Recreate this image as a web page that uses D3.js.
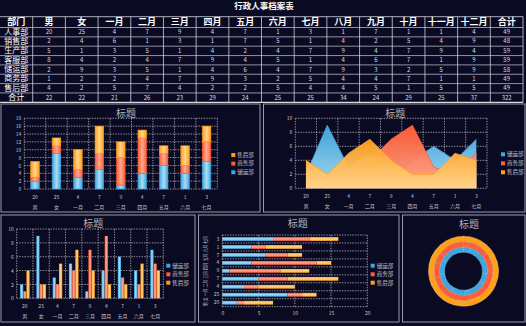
<!DOCTYPE html>
<html><head><meta charset="utf-8">
<script src="https://cdn.jsdelivr.net/npm/d3@7"></script>
<style>
html,body{margin:0;padding:0;background:#0b0a23;}
svg{display:block;}
text{font-family:"Noto Sans CJK SC","Noto Sans",sans-serif;}
</style></head><body>
<svg id="c" width="526" height="326"></svg>
<script>
// ---- table data ----
const tableTitle = "行政人事档案表";
const tableHeader = ["部门","男","女","一月","二月","三月","四月","五月","六月","七月","八月","九月","十月","十一月","十二月","合计"];
const departments = ["人事部","销售部","生产部","客服部","储运部","商务部","售后部","合计"];
const tableRows = [
  [20,25,4,7,9,4,7,1,3,1,7,1,1,4,49],
  [2,4,6,1,3,1,7,5,1,4,2,5,4,9,48],
  [5,1,3,5,1,4,2,4,7,9,4,7,9,4,59],
  [8,4,2,4,7,9,4,5,1,4,6,7,1,9,59],
  [2,9,3,5,1,4,6,4,7,9,3,2,5,9,58],
  [1,2,2,4,7,9,3,2,5,4,4,7,1,1,49],
  [4,2,5,7,4,2,2,5,4,4,5,1,5,5,49],
  [22,22,21,26,23,29,24,25,25,34,24,29,25,37,322]
];

// ---- chart data ----
const chartTitle = "标题";
const chartCategories = ["男","女","一月","二月","三月","四月","五月","六月","七月"];
const categoryTicks = [20,25,4,7,9,4,7,1,3];
const seriesNames = ["储运部","商务部","售后部"];
const storageValues = [2,9,3,5,1,4,6,4,7];
const businessValues = [1,2,2,4,7,9,3,2,5];
const afterSalesValues = [4,2,5,7,4,2,2,5,4];
const stackTicks = [0,2,4,6,8,10,12,14,16,18];
const tenTicks = [0,2,4,6,8,10];
const barTicks = [0,5,10,15,20];

const seriesValues = [storageValues, businessValues, afterSalesValues];
const palette = [
  {dark:"#3fa6df", light:"#a9ddf5"},
  {dark:"#ff5c38", light:"#ffa98c"},
  {dark:"#ffa01c", light:"#ffd48a"}
];

const svg = d3.select("#c");
const defs = svg.append("defs");
palette.forEach((p, i) => {
  // vertical fade used by areas
  const gv = defs.append("linearGradient").attr("id", "gv" + i)
    .attr("x1", 0).attr("y1", 0).attr("x2", 0).attr("y2", 1);
  gv.append("stop").attr("offset", "0%").attr("stop-color", p.dark);
  gv.append("stop").attr("offset", "100%").attr("stop-color", p.light);
  // column sheen: darker edges, lighter middle
  const gh = defs.append("linearGradient").attr("id", "gh" + i)
    .attr("x1", 0).attr("y1", 0).attr("x2", 1).attr("y2", 0);
  gh.append("stop").attr("offset", "0%").attr("stop-color", p.dark);
  gh.append("stop").attr("offset", "50%").attr("stop-color", p.light);
  gh.append("stop").attr("offset", "100%").attr("stop-color", p.dark);
  // bar sheen for horizontal bars
  const gb = defs.append("linearGradient").attr("id", "gb" + i)
    .attr("x1", 0).attr("y1", 0).attr("x2", 0).attr("y2", 1);
  gb.append("stop").attr("offset", "0%").attr("stop-color", p.dark);
  gb.append("stop").attr("offset", "50%").attr("stop-color", p.light);
  gb.append("stop").attr("offset", "100%").attr("stop-color", p.dark);
});

const LINE = "#b4b4c2";
const LABEL = "#c4c4cc";

// ---- title + table ----
svg.append("text").attr("x", 264).attr("y", 7).attr("text-anchor", "middle")
  .attr("dominant-baseline", "middle").attr("fill", "#ffffff")
  .attr("font-size", 8.5).attr("font-weight", "bold").text(tableTitle);

const colX = d3.scaleBand().domain(d3.range(tableHeader.length)).range([0, 523]);
const rowEdges = [16.7, 27.5].concat(d3.range(1, 9).map(i => 27.5 + i * 9.35));
const tg = svg.append("g");
rowEdges.forEach((y, i) => {
  tg.append("line").attr("x1", 0).attr("x2", 523).attr("y1", y).attr("y2", y)
    .attr("stroke", i === 0 || i === rowEdges.length - 1 ? "#d8d8e0" : LINE)
    .attr("stroke-width", i === rowEdges.length - 1 ? 1.2 : 0.8);
});
d3.range(1, tableHeader.length + 1).forEach(i => {
  const x = i === tableHeader.length ? 523 : colX(i);
  tg.append("line").attr("x1", x).attr("x2", x).attr("y1", rowEdges[0]).attr("y2", rowEdges[rowEdges.length - 1])
    .attr("stroke", "#d0d0da").attr("stroke-width", 0.8);
});
tableHeader.forEach((h, i) => {
  tg.append("text").attr("x", colX(i) + colX.bandwidth() / 2).attr("y", (rowEdges[0] + rowEdges[1]) / 2 + 0.5)
    .attr("text-anchor", "middle").attr("dominant-baseline", "middle")
    .attr("fill", "#ffffff").attr("font-size", 9).attr("font-weight", "bold").text(h);
});
departments.forEach((dep, r) => {
  const cy = (rowEdges[r + 1] + rowEdges[r + 2]) / 2 + 0.3;
  tg.append("text").attr("x", colX(0) + colX.bandwidth() / 2).attr("y", cy)
    .attr("text-anchor", "middle").attr("dominant-baseline", "middle")
    .attr("fill", "#ffffff").attr("font-size", 8).text(dep);
  tableRows[r].forEach((v, c) => {
    tg.append("text").attr("x", colX(c + 1) + colX.bandwidth() / 2).attr("y", cy)
      .attr("text-anchor", "middle").attr("dominant-baseline", "middle")
      .attr("fill", "#dcdce4").attr("font-size", 6).text(v);
  });
});

// ---- panels ----
const panels = [
  [1, 104, 260, 212], [263.5, 104, 525, 212],
  [1, 215, 195, 322], [198.5, 215, 399, 322], [402.5, 215, 525, 322]
];
panels.forEach(([x0, y0, x1, y1]) => {
  svg.append("rect").attr("x", x0).attr("y", y0).attr("width", x1 - x0).attr("height", y1 - y0)
    .attr("fill", "none").attr("stroke", "#9a9aaa").attr("stroke-width", 1);
});

// ---- helpers ----
function gridStyle(sel) {
  sel.attr("stroke", "#d4d4dc").attr("stroke-width", 0.8).attr("stroke-dasharray", "1.4,1.2").attr("opacity", 0.85);
}
function title(x, y) {
  svg.append("text").attr("x", x).attr("y", y).attr("text-anchor", "middle")
    .attr("dominant-baseline", "middle").attr("fill", "#b0b0b8").attr("font-size", 10).text(chartTitle);
}
function legend(x, ys, order) {
  order.forEach((si, k) => {
    svg.append("rect").attr("x", x - 2).attr("y", ys[k] - 2).attr("width", 4).attr("height", 4)
      .attr("fill", palette[si].dark);
    svg.append("text").attr("x", x + 4).attr("y", ys[k] + 0.3).attr("dominant-baseline", "middle")
      .attr("fill", LABEL).attr("font-size", 5.5).text(seriesNames[si]);
  });
}
function styleAxis(g) {
  g.select(".domain").remove();
  g.selectAll("text").attr("fill", LABEL).attr("font-size", 5)
    .attr("font-family", '"Noto Sans CJK SC","Noto Sans",sans-serif');
}
function categoryFrame(x, y, ticks, bottom) {
  const [x0, x1] = x.range();
  const [y0, y1] = [y.range()[1], y.range()[0]];
  const g = svg.append("g");
  ticks.forEach(t => g.append("line").attr("x1", x0).attr("x2", x1).attr("y1", y(t)).attr("y2", y(t)).call(gridStyle));
  x.domain().forEach(c => g.append("line").attr("x1", x(c)).attr("x2", x(c)).attr("y1", y0).attr("y2", y1).call(gridStyle));
  g.append("line").attr("x1", x1).attr("x2", x1).attr("y1", y0).attr("y2", y1).call(gridStyle);
  svg.append("g").attr("transform", `translate(${x0},0)`)
    .call(d3.axisLeft(y).tickValues(ticks).tickSize(0).tickPadding(3)).call(styleAxis);
  const ax = svg.append("g").attr("transform", `translate(0,${bottom})`)
    .call(d3.axisBottom(x).tickSize(0).tickPadding(6).tickFormat((d, i) => categoryTicks[i])).call(styleAxis);
  ax.selectAll(".tick").append("text").attr("y", 16).attr("dy", "0.71em").attr("text-anchor", "middle")
    .attr("fill", LABEL).attr("font-size", 5).text(d => d);
}

// ---- chart 1: stacked columns ----
{
  const x = d3.scaleBand().domain(chartCategories).range([24.3, 217.3]);
  const y = d3.scaleLinear().domain([0, 18]).range([189, 118.3]);
  categoryFrame(x, y, stackTicks, 189);
  const rows = chartCategories.map((c, i) => ({cat: c, s0: storageValues[i], s1: businessValues[i], s2: afterSalesValues[i]}));
  const layers = d3.stack().keys(["s0", "s1", "s2"])(rows);
  const bw = x.bandwidth() * 0.4;
  layers.forEach((layer, li) => {
    svg.append("g").selectAll("rect").data(layer).join("rect")
      .attr("x", d => x(d.data.cat) + (x.bandwidth() - bw) / 2)
      .attr("y", d => y(d[1])).attr("width", bw)
      .attr("height", d => y(d[0]) - y(d[1]))
      .attr("fill", `url(#gh${li})`).attr("stroke", palette[li].dark).attr("stroke-width", 0.6);
  });
  title(126, 114);
  legend(233.3, [155, 163.6, 172.3], [2, 1, 0]);
}

// ---- chart 2: overlapping areas ----
{
  const x = d3.scaleBand().domain(chartCategories).range([295.3, 487]);
  const y = d3.scaleLinear().domain([0, 10]).range([188.3, 118.3]);
  categoryFrame(x, y, tenTicks, 188.3);
  const cx = c => x(c) + x.bandwidth() / 2;
  seriesValues.forEach((vals, si) => {
    const pts = chartCategories.map((c, i) => [c, vals[i]]);
    svg.append("path").datum(pts)
      .attr("d", d3.area().x(d => cx(d[0])).y0(y(0)).y1(d => y(d[1])))
      .attr("fill", `url(#gv${si})`).attr("opacity", 0.97);
    svg.append("path").datum(pts)
      .attr("d", d3.line().x(d => cx(d[0])).y(d => y(d[1])))
      .attr("fill", "none").attr("stroke", palette[si].dark).attr("stroke-width", 0.8);
  });
  title(395.3, 114);
  legend(503, [154.3, 163.3, 172.3], [0, 1, 2]);
}

// ---- chart 3: grouped columns ----
{
  const x = d3.scaleBand().domain(chartCategories).range([16.7, 163.3]);
  const y = d3.scaleLinear().domain([0, 10]).range([298.3, 229]);
  categoryFrame(x, y, tenTicks, 298.3);
  const inner = d3.scaleBand().domain([0, 1, 2]).range([0, x.bandwidth()]).paddingOuter(1.05).paddingInner(0);
  seriesValues.forEach((vals, si) => {
    svg.append("g").selectAll("rect").data(chartCategories).join("rect")
      .attr("x", c => x(c) + inner(si)).attr("width", inner.bandwidth())
      .attr("y", (c, i) => y(vals[i])).attr("height", (c, i) => y(0) - y(vals[i]))
      .attr("fill", `url(#gh${si})`);
  });
  title(93.3, 224);
  legend(168.3, [265.7, 274.3, 282.7], [0, 1, 2]);
}

// ---- chart 4: stacked horizontal bars ----
{
  const x = d3.scaleLinear().domain([0, 20]).range([222.3, 367.3]);
  const y = d3.scaleBand().domain(chartCategories).range([306.7, 235]);
  const g = svg.append("g");
  barTicks.forEach(t => g.append("line").attr("x1", x(t)).attr("x2", x(t)).attr("y1", 235).attr("y2", 306.7).call(gridStyle));
  chartCategories.forEach(c => g.append("line").attr("x1", 222.3).attr("x2", 367.3).attr("y1", y(c)).attr("y2", y(c)).call(gridStyle));
  g.append("line").attr("x1", 222.3).attr("x2", 367.3).attr("y1", 306.7).attr("y2", 306.7).call(gridStyle);
  svg.append("g").attr("transform", "translate(0,306.7)")
    .call(d3.axisBottom(x).tickValues(barTicks).tickSize(0).tickPadding(5)).call(styleAxis);
  svg.append("g").attr("transform", "translate(222.3,0)")
    .call(d3.axisLeft(y).tickSize(0).tickPadding(3).tickFormat((d, i) => categoryTicks[i])).call(styleAxis);
  svg.append("text").attr("transform", "translate(206,271) rotate(-90)")
    .attr("text-anchor", "middle").attr("dominant-baseline", "middle")
    .attr("fill", LABEL).attr("font-size", 5)
    .attr("textLength", 70).attr("lengthAdjust", "spacingAndGlyphs")
    .text(chartCategories.join(" "));
  const rows = chartCategories.map((c, i) => ({cat: c, s0: storageValues[i], s1: businessValues[i], s2: afterSalesValues[i]}));
  const layers = d3.stack().keys(["s0", "s1", "s2"])(rows);
  const bh = y.bandwidth() * 0.48;
  layers.forEach((layer, li) => {
    svg.append("g").selectAll("rect").data(layer).join("rect")
      .attr("y", d => y(d.data.cat) + (y.bandwidth() - bh) / 2).attr("height", bh)
      .attr("x", d => x(d[0])).attr("width", d => x(d[1]) - x(d[0]))
      .attr("fill", `url(#gb${li})`);
  });
  title(297.7, 224);
  legend(372.7, [265.7, 274.3, 282.7], [0, 1, 2]);
}

// ---- chart 5: nested rings ----
{
  const cx = 463.5, cy = 271.2;
  const radii = [[19, 24.3], [24.3, 29.6], [29.6, 35]];
  const pie = d3.pie().sort(null).value(d => d);
  seriesValues.forEach((vals, si) => {
    const [r0, r1] = radii[si];
    const rg = defs.append("radialGradient").attr("id", "gr" + si)
      .attr("gradientUnits", "userSpaceOnUse").attr("cx", cx).attr("cy", cy).attr("r", r1);
    rg.append("stop").attr("offset", r0 / r1).attr("stop-color", palette[si].dark);
    rg.append("stop").attr("offset", ((r0 + r1) / 2) / r1).attr("stop-color", palette[si].light);
    rg.append("stop").attr("offset", 1).attr("stop-color", palette[si].dark);
    const arc = d3.arc().innerRadius(r0).outerRadius(r1);
    svg.append("g").attr("transform", `translate(${cx},${cy})`)
      .selectAll("path").data(pie(vals)).join("path")
      .attr("d", arc).attr("fill", `url(#gr${si})`)
      .attr("stroke", palette[si].light).attr("stroke-width", 0.5).attr("stroke-opacity", 0.7);
  });
  svg.append("text").attr("x", 469).attr("y", 225).attr("text-anchor", "middle")
    .attr("dominant-baseline", "middle").attr("fill", "#b0b0b8").attr("font-size", 10).text(chartTitle);
}
</script>
</body></html>
